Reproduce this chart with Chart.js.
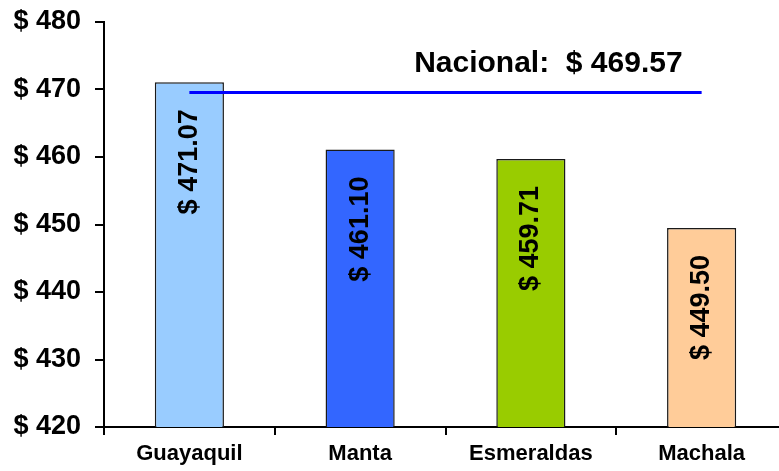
<!DOCTYPE html>
<html>
<head>
<meta charset="utf-8">
<script src="https://cdn.jsdelivr.net/npm/chart.js@4/dist/chart.umd.min.js"></script>
<style>
  html, body { margin: 0; padding: 0; background: #ffffff; overflow: hidden; }
  #wrap { width: 787px; height: 471px; }
</style>
</head>
<body>
<div id="wrap"><canvas id="c" width="787" height="471"></canvas></div>
<script>
const categories = ["Guayaquil", "Manta", "Esmeraldas", "Machala"];
const salaries = [471.07, 461.10, 459.71, 449.50];
const barColors = ["#99CCFF", "#3366FF", "#99CC00", "#FFCC99"];
const nationalValue = 469.57;
const nationalLine = [469.57, 469.57, 469.57, 469.57];
const nationalLabel = "Nacional:  $ 469.57";
const yTicks = [420, 430, 440, 450, 460, 470, 480];

const FONT = "'Liberation Sans', Arial, sans-serif";

const labelsPlugin = {
  id: 'labelsPlugin',
  afterDatasetsDraw(chart) {
    const ctx = chart.ctx;
    const meta = chart.getDatasetMeta(0);
    ctx.save();
    ctx.fillStyle = '#000000';
    ctx.font = "bold 27px " + FONT;
    ctx.textAlign = 'right';
    ctx.textBaseline = 'middle';
    meta.data.forEach((bar, i) => {
      ctx.save();
      ctx.translate(bar.x, bar.y + 27);
      ctx.rotate(-Math.PI / 2);
      ctx.fillText('$ ' + salaries[i].toFixed(2), 0, 0);
      ctx.restore();
    });
    // national label
    const lineMeta = chart.getDatasetMeta(1);
    const last = lineMeta.data[lineMeta.data.length - 1];
    const yPix = chart.scales.y.getPixelForValue(nationalValue);
    ctx.font = "bold 30px " + FONT;
    ctx.textAlign = 'right';
    ctx.textBaseline = 'alphabetic';
    ctx.fillText(nationalLabel, last.x - 19, yPix - 20);
    ctx.restore();
  }
};

new Chart(document.getElementById('c'), {
  data: {
    labels: categories,
    datasets: [
      {
        type: 'bar',
        data: salaries,
        backgroundColor: barColors,
        borderColor: '#1a1a1a',
        borderWidth: 1.5,
        borderSkipped: false,
        categoryPercentage: 1.0,
        barPercentage: 0.405,
        order: 2
      },
      {
        type: 'line',
        data: nationalLine,
        borderColor: '#0000FF',
        borderWidth: 3,
        pointRadius: 0,
        fill: false,
        tension: 0,
        order: 1
      }
    ]
  },
  options: {
    responsive: false,
    animation: false,
    layout: { padding: { top: 22, right: 0, bottom: 0, left: 0 } },
    plugins: {
      legend: { display: false },
      tooltip: { enabled: false },
      title: { display: false }
    },
    scales: {
      x: {
        type: 'category',
        offset: true,
        grid: {
          offset: true,
          drawOnChartArea: false,
          drawTicks: true,
          tickLength: 8,
          color: '#000000',
          lineWidth: 2
        },
        border: { display: true, color: '#000000', width: 2 },
        ticks: {
          color: '#000000',
          font: { family: FONT, size: 22, weight: 'bold' },
          padding: 6,
          maxRotation: 0,
          autoSkip: false
        },
        afterFit(scale) {
          scale.height = 44;
          scale.paddingLeft = 0;
          scale.paddingRight = 0;
        }
      },
      y: {
        type: 'linear',
        min: 420,
        max: 480,
        afterBuildTicks(scale) { scale.ticks = yTicks.map(v => ({ value: v })); },
        grid: {
          drawOnChartArea: false,
          drawTicks: true,
          tickLength: 9,
          color: '#000000',
          lineWidth: 2
        },
        border: { display: true, color: '#000000', width: 2 },
        ticks: {
          color: '#000000',
          font: { family: FONT, size: 27, weight: 'bold' },
          padding: 14,
          callback: (v) => '$ ' + v
        },
        afterFit(scale) {
          scale.width = 104;
          scale.paddingTop = 0;
          scale.paddingBottom = 0;
        }
      }
    }
  },
  plugins: [labelsPlugin]
});
</script>
</body>
</html>
